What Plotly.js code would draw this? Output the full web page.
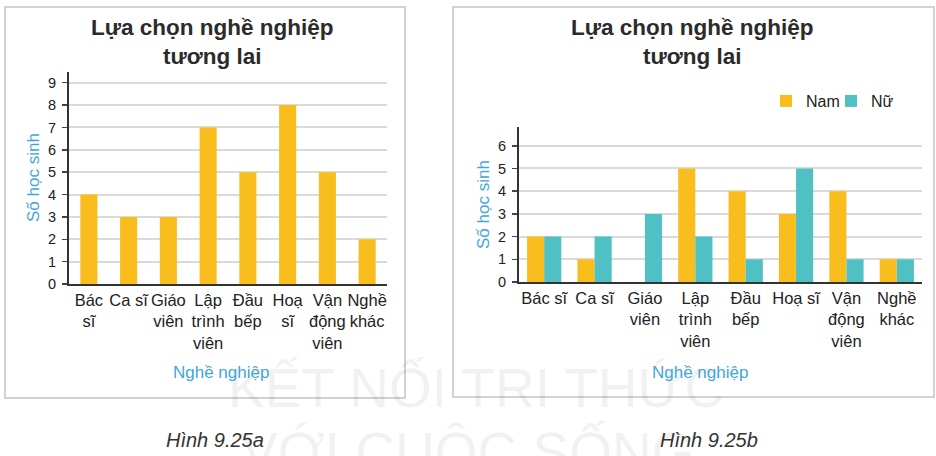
<!DOCTYPE html>
<html>
<head>
<meta charset="utf-8">
<script src="https://cdn.plot.ly/plotly-3.0.1.min.js"></script>
<style>html,body{margin:0;padding:0;background:#fff;}#chart{width:936px;height:456px;}</style>
</head>
<body>
<div id="chart"></div>
<script>
// ---- Data ----
const categoriesA = ["Bác<br>sĩ", "Ca sĩ", "Giáo<br>viên", "Lập<br>trình<br>viên", "Đầu<br>bếp", "Hoạ<br>sĩ", "Vận<br>động<br>viên", "Nghề<br>khác"];
const totalValues = [4, 3, 3, 7, 5, 8, 5, 2];

const categoriesB = ["Bác sĩ", "Ca sĩ", "Giáo<br>viên", "Lập<br>trình<br>viên", "Đầu<br>bếp", "Hoạ sĩ", "Vận<br>động<br>viên", "Nghề<br>khác"];
const namValues = [2, 1, 0, 5, 4, 3, 4, 1];
const nuValues = [2, 2, 3, 2, 1, 5, 1, 1];

const chartTitle = "Lựa chọn nghề nghiệp<br>tương lai";
const xTitle = "Nghề nghiệp";
const yTitle = "Số học sinh";
const seriesNames = ["Nam", "Nữ"];
const captions = ["Hình 9.25a", "Hình 9.25b"];
const watermark = ["KẾT NỐI TRI THỨC", "VỚI CUỘC SỐNG"];

// ---- Styling ----
const W = 936, H = 456;
const px = x => x / W;
const py = y => 1 - y / H;
const YELLOW = "#F9BE1E", TEAL = "#4FC0C3";
const FONT = "Liberation Sans, Arial, sans-serif";
const AXBLUE = "#3FA7D9";

const traces = [
  { type: "bar", x: categoriesA, y: totalValues, xaxis: "x", yaxis: "y",
    marker: { color: YELLOW }, width: 0.43, showlegend: false, hoverinfo: "x+y" },
  { type: "bar", name: seriesNames[0], x: categoriesB, y: namValues, xaxis: "x2", yaxis: "y2",
    marker: { color: YELLOW }, legend: "legend" },
  { type: "bar", name: seriesNames[1], x: categoriesB, y: nuValues, xaxis: "x2", yaxis: "y2",
    marker: { color: TEAL }, legend: "legend2" }
];

const xCommon = {
  type: "category", showline: true, linecolor: "#333", linewidth: 2, ticks: "",
  showgrid: false, zeroline: false, tickfont: { family: FONT, size: 16.5, color: "#222" },
  tickangle: 0, fixedrange: true
};
const yCommon = {
  showline: true, linecolor: "#333", linewidth: 2, ticks: "outside", ticklen: 5, tickcolor: "#444",
  tickwidth: 1.5, showgrid: true, gridcolor: "#dadada", gridwidth: 2, zeroline: false, dtick: 1,
  tickfont: { family: FONT, size: 14.5, color: "#222" }, ticklabelstandoff: 3, fixedrange: true
};

const ann = [];
// watermark (drawn first, faint)
const WMFONT = { family: FONT, size: 55, color: "rgba(0,0,0,0.055)" };
ann.push({ xref: "paper", yref: "paper", x: px(476), y: py(388), xanchor: "center", yanchor: "middle",
  text: watermark[0], showarrow: false, font: WMFONT });
ann.push({ xref: "paper", yref: "paper", x: px(468), y: py(452), xanchor: "center", yanchor: "middle",
  text: watermark[1], showarrow: false, font: WMFONT });
// titles
[212, 692].forEach(cx => {
  ann.push({ xref: "paper", yref: "paper", x: px(cx), y: py(42), xanchor: "center", yanchor: "middle",
    text: "<b>" + chartTitle + "</b>", showarrow: false, font: { family: FONT, size: 22.5, color: "#2b2b2b" } });
});
// axis titles
const TFONT = { family: FONT, size: 17, color: AXBLUE };
ann.push({ xref: "paper", yref: "paper", x: px(221), y: py(372), xanchor: "center", yanchor: "middle",
  text: xTitle, showarrow: false, font: TFONT });
ann.push({ xref: "paper", yref: "paper", x: px(700), y: py(372), xanchor: "center", yanchor: "middle",
  text: xTitle, showarrow: false, font: TFONT });
ann.push({ xref: "paper", yref: "paper", x: px(33), y: py(178), xanchor: "center", yanchor: "middle",
  text: yTitle, textangle: -90, showarrow: false, font: TFONT });
ann.push({ xref: "paper", yref: "paper", x: px(483), y: py(205), xanchor: "center", yanchor: "middle",
  text: yTitle, textangle: -90, showarrow: false, font: TFONT });
// captions
const CFONT = { family: FONT, size: 20, color: "#333" };
ann.push({ xref: "paper", yref: "paper", x: px(215), y: py(440), xanchor: "center", yanchor: "middle",
  text: "<i>" + captions[0] + "</i>", showarrow: false, font: CFONT });
ann.push({ xref: "paper", yref: "paper", x: px(709), y: py(440), xanchor: "center", yanchor: "middle",
  text: "<i>" + captions[1] + "</i>", showarrow: false, font: CFONT });

const LEG = { orientation: "h", xanchor: "left", yanchor: "top",
  font: { family: FONT, size: 16, color: "#222" }, bgcolor: "rgba(0,0,0,0)", itemwidth: 30 };

const layout = {
  width: W, height: H, autosize: false,
  margin: { l: 0, r: 0, t: 0, b: 0, pad: 0 },
  paper_bgcolor: "#fff", plot_bgcolor: "rgba(0,0,0,0)",
  barmode: "group", bargap: 0.32, bargroupgap: 0,
  xaxis: Object.assign({}, xCommon, { domain: [px(69), px(387)], anchor: "y" }),
  yaxis: Object.assign({}, yCommon, { domain: [py(284), py(72)], range: [0, 9.48], anchor: "x" }),
  xaxis2: Object.assign({}, xCommon, { domain: [px(519), px(922)], anchor: "y2" }),
  yaxis2: Object.assign({}, yCommon, { domain: [py(282), py(126.7)], range: [0, 6.84], anchor: "x2" }),
  showlegend: true,
  legend: Object.assign({}, LEG, { x: px(766), y: py(84) }),
  legend2: Object.assign({}, LEG, { x: px(831), y: py(84) }),
  shapes: [
    { type: "rect", xref: "paper", yref: "paper", x0: px(5), x1: px(405), y0: py(398), y1: py(7),
      line: { color: "#d2d2d2", width: 2 } },
    { type: "rect", xref: "paper", yref: "paper", x0: px(453), x1: px(934), y0: py(397), y1: py(7),
      line: { color: "#d2d2d2", width: 2 } }
  ],
  annotations: ann
};

Plotly.newPlot("chart", traces, layout, { displayModeBar: false, staticPlot: true });
</script>
</body>
</html>
